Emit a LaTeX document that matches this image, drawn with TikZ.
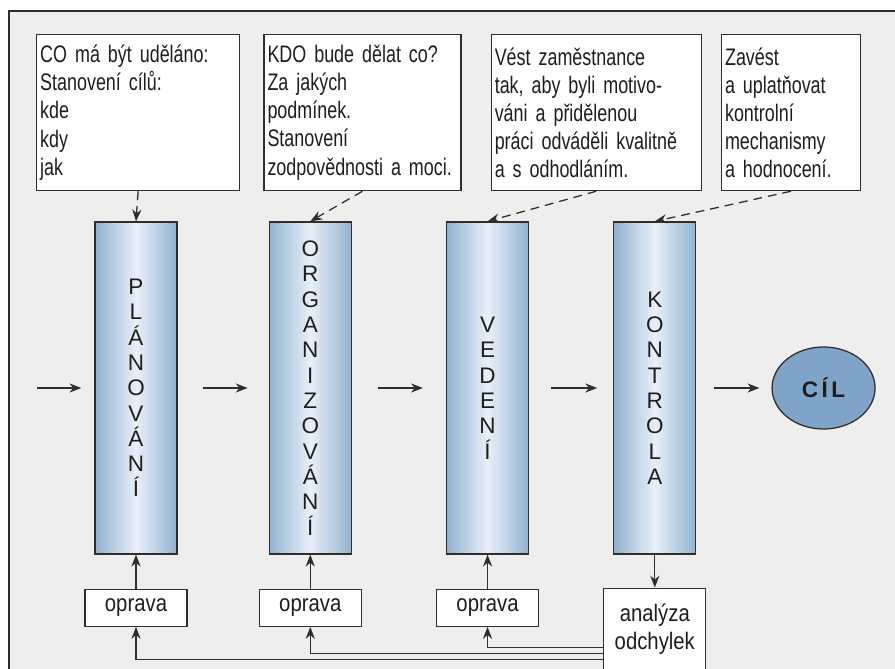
\documentclass[tikz,border=0pt]{standalone}
\usepackage{fontspec}
\setmainfont[FakeStretch=0.75]{Liberation Sans}
\newfontfamily\colfont{Liberation Sans}
\newfontfamily\fixfont[FakeStretch=0.85]{Liberation Sans}
\usetikzlibrary{positioning,calc,shapes.geometric,arrows.meta}
\hyphenpenalty=10000

\definecolor{linecol}{RGB}{50,44,42}
\definecolor{textcol}{RGB}{30,30,30}
\definecolor{pagegray}{RGB}{238,238,238}
\definecolor{phaseblue}{RGB}{145,178,208}
\definecolor{phasepale}{RGB}{232,240,248}
\definecolor{goalblue}{RGB}{128,164,200}

\tikzstyle{task} = [rectangle, draw=linecol, fill=white, line width=0.9pt,
align=left,
inner xsep=0.9mm, inner ysep=0pt,
minimum height=3.9cm,
text=textcol,
font=\fontsize{17pt}{20pt}\selectfont]
\tikzstyle{phase} = [rectangle, draw=linecol, line width=0.9pt,
minimum width=2.05cm,
minimum height=8.3cm,
left color=phaseblue, right color=phaseblue, middle color=phasepale,
align=center,
text=textcol,
font=\colfont\fontsize{16pt}{18pt}\selectfont]
\tikzstyle{fix} = [rectangle, draw=linecol, fill=white, line width=0.9pt,
minimum width=2.55cm,
minimum height=0.925cm,
align=center,
text=textcol,
font=\fixfont\fontsize{17pt}{20pt}\selectfont]
\tikzstyle{goal} = [ellipse, draw=linecol, line width=0.9pt, fill=goalblue,
minimum width=2.575cm,
minimum height=2.05cm,
inner sep=0pt,
text=textcol,
font=\colfont\bfseries\fontsize{16pt}{18pt}\selectfont]
\tikzstyle{arrow} = [line width=0.9pt, draw=linecol, ->, >={Stealth[length=8.5pt,width=6.5pt]}]
\tikzstyle{arrow_dashed} = [arrow, dash pattern=on 2.2mm off 1.5mm]

\begin{document}
\begin{tikzpicture}[x=0.25mm, y=-0.25mm]

\useasboundingbox (0,0) rectangle (895,669);

% Page and frame
\fill[white] (0,0) rectangle (895,669);
\fill[pagegray] (9,11) rectangle (895,669);
\draw[linecol, line width=1pt] (895,11) -- (9,11) -- (9,669);

% Task boxes on top
\node (Plan_Task) [task, anchor=north west, text width=4.895cm] at (36,34) {CO má být uděláno:\\Stanovení cílů:\\kde\\kdy\\jak};
\node (Org_Task) [task, right=0.575cm of Plan_Task, text width=4.745cm] {KDO bude dělat co?\\Za jakých\\podmínek.\\Stanovení\\zodpovědnosti a moci.};
\node (Ved_Task) [task, right=0.725cm of Org_Task, text width=5.07cm] {Vést zaměstnance\\tak, aby byli motivo-\\váni a přidělenou\\práci odváděli kvalitně\\a s odhodláním.};
\node (Kon_Task) [task, right=0.475cm of Ved_Task, text width=3.295cm] {Zavést\\a uplatňovat\\kontrolní\\mechanismy\\a hodnocení.};

% Phases
\node (Plan) [phase] at (136,388) {P\\L\\Á\\N\\O\\V\\Á\\N\\Í};
\node (Org) [phase, right=2.275cm of Plan] {O\\R\\G\\A\\N\\I\\Z\\O\\V\\Á\\N\\Í};
\node (Ved) [phase, right=2.35cm of Org] {V\\E\\D\\E\\N\\Í};
\node (Kon) [phase, right=2.1cm of Ved] {K\\O\\N\\T\\R\\O\\L\\A};
\node (Goal) [goal, right=1.875cm of Kon] {C\hspace{2.5pt}Í\hspace{2.5pt}L};
\coordinate (Input) at (37,388);

% Corrections and analysis
\node (Fix_Plan) [fix, below=0.85cm of Plan] {oprava};
\node (Fix_Org) [fix, below=0.85cm of Org] {oprava};
\node (Fix_Ved) [fix, below=0.85cm of Ved] {oprava};
\node (Analysis) [fix, below=0.825cm of Kon, minimum height=2.025cm] {analýza\\odchylek};

% Main flow
\draw [arrow, shorten >=3.25mm] (Input) -- (Plan);
\draw [arrow, shorten <=6.25mm, shorten >=5.25mm] (Plan) -- (Org);
\draw [arrow, shorten <=6.5mm, shorten >=5.75mm] (Org) -- (Ved);
\draw [arrow, shorten <=5.5mm, shorten >=4mm] (Ved) -- (Kon);
\draw [arrow, shorten <=4.5mm, shorten >=3mm] (Kon) -- (Goal);

% Tasks to phases
\draw [arrow_dashed] (Plan_Task.south) -- (Plan.north);
\draw [arrow_dashed] (Org_Task.south) -- (Org.north);
\draw [arrow_dashed] (Ved_Task.south) -- (Ved.north);
\draw [arrow_dashed] (Kon_Task.south) -- (Kon.north);

% Corrections back into phases
\draw [arrow] (Fix_Plan) -- (Plan);
\draw [arrow] (Fix_Org) -- (Org);
\draw [arrow] (Fix_Ved) -- (Ved);
\draw [arrow] (Kon) -- (Analysis);

% Feedback from analysis
\draw [arrow] ($(Analysis.west)+(0,18.5)$) -| (Fix_Ved.south);
\draw [arrow] ($(Analysis.west)+(0,24.5)$) -| (Fix_Org.south);
\draw [arrow] ($(Analysis.west)+(0,30.5)$) -| (Fix_Plan.south);

\end{tikzpicture}
\end{document}
